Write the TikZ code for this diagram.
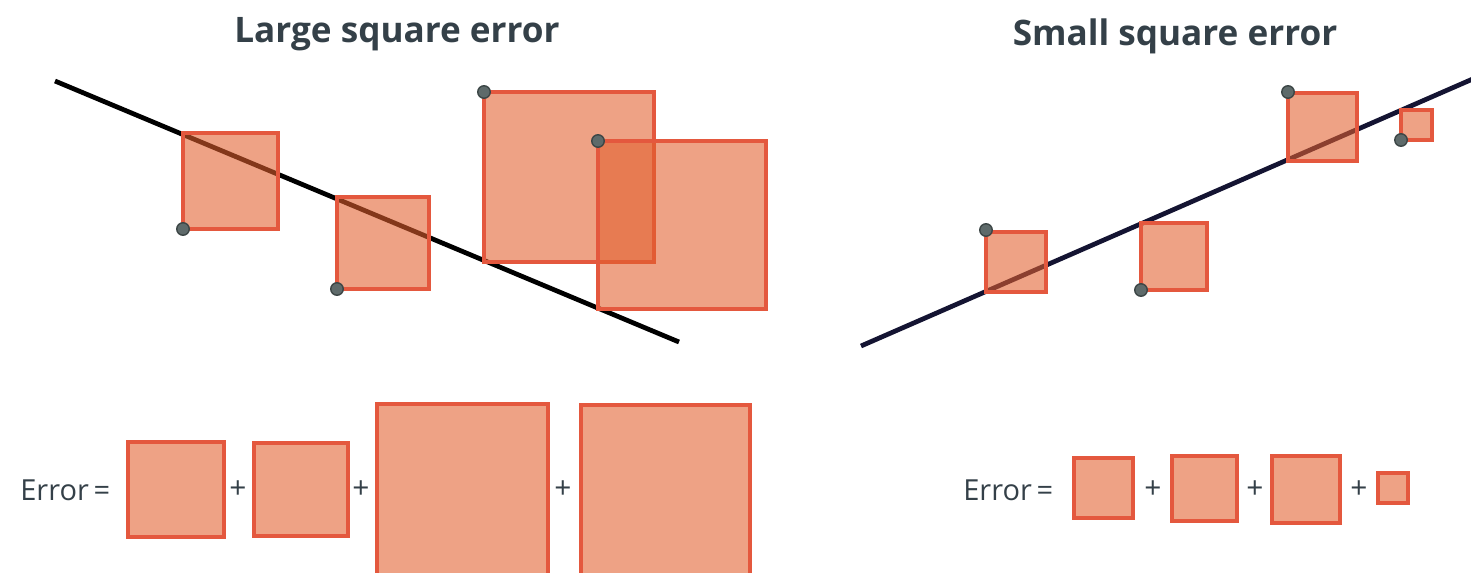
\documentclass[tikz,border=0pt]{standalone}
\usepackage{fontspec}
\setmainfont{Open Sans}
\definecolor{sqfill}{RGB}{226,95,45}
\definecolor{sqedge}{RGB}{228,88,62}
\definecolor{txt}{RGB}{52,64,72}
\definecolor{dotfill}{RGB}{94,106,106}
\definecolor{dotedge}{RGB}{60,70,70}
\definecolor{navy}{RGB}{20,20,50}
\begin{document}
\begin{tikzpicture}[x=0.02cm,y=-0.02cm,
  sq/.style={fill=sqfill, fill opacity=0.58, draw=sqedge, line width=2pt},
  fitline/.style={line width=2.7pt},
  datapt/.style={circle, fill=dotfill, draw=dotedge, line width=0.8pt, inner sep=0pt, minimum size=0.25cm},
  title/.style={font=\bfseries\fontsize{20}{24}\selectfont, text=txt, inner sep=0pt},
  eqtxt/.style={font=\fontsize{16.5}{20}\selectfont, text=txt, inner sep=0pt},
  plus/.style={font=\fontsize{17}{20}\selectfont, text=txt, inner sep=0pt}]
\useasboundingbox (0,0) rectangle (1471,572);
\clip (0,0) rectangle (1471,572);
% titles
\node[title] (t1) at (397,34) {Large square error};
\node[title] (t2) at (1175,36) {Small square error};
% left fit line
\coordinate (la) at (55,81);
\coordinate (lb) at (679,342);
\draw[fitline, black] (la) -- (lb);
\draw[sq] (183,133) rectangle (278,229);
\draw[sq] (337,197) rectangle (429,289);
\draw[sq] (484,92) rectangle (654,262);
\draw[sq] (598,141) rectangle (766,309);
\node[datapt] (p1) at (183,229) {};
\node[datapt] (p2) at (337,289) {};
\node[datapt] (p3) at (484,92) {};
\node[datapt] (p4) at (598,141) {};
% right fit line
\coordinate (ra) at (861,346);
\coordinate (rb) at (1475,78);
\draw[fitline, navy] (ra) -- (rb);
\draw[sq] (986,232) rectangle (1046,292);
\draw[sq] (1141,223) rectangle (1207,290);
\draw[sq] (1288,93) rectangle (1357,161);
\draw[sq] (1401,110) rectangle (1432,140);
\node[datapt] (q1) at (986,230) {};
\node[datapt] (q2) at (1141,290) {};
\node[datapt] (q3) at (1288,92) {};
\node[datapt] (q4) at (1401,140) {};
% left equation
\node[eqtxt, anchor=west] (e1) at (20,490) {Error\,=};
\draw[sq] (128,442) rectangle (224,537);
\node[plus] (a1) at (238,490) {+};
\draw[sq] (254,443) rectangle (348,536);
\node[plus] (a2) at (361,490) {+};
\draw[sq] (377,404) rectangle (548,578);
\node[plus] (a3) at (563,490) {+};
\draw[sq] (581,405) rectangle (750,578);
% right equation
\node[eqtxt, anchor=west] (e2) at (963,490) {Error\,=};
\draw[sq] (1074,458) rectangle (1133,518);
\node[plus] (b1) at (1153,490) {+};
\draw[sq] (1172,456) rectangle (1237,521);
\node[plus] (b2) at (1255,490) {+};
\draw[sq] (1272,456) rectangle (1340,523);
\node[plus] (b3) at (1359,490) {+};
\draw[sq] (1378,473) rectangle (1408,503);
\end{tikzpicture}
\end{document}
